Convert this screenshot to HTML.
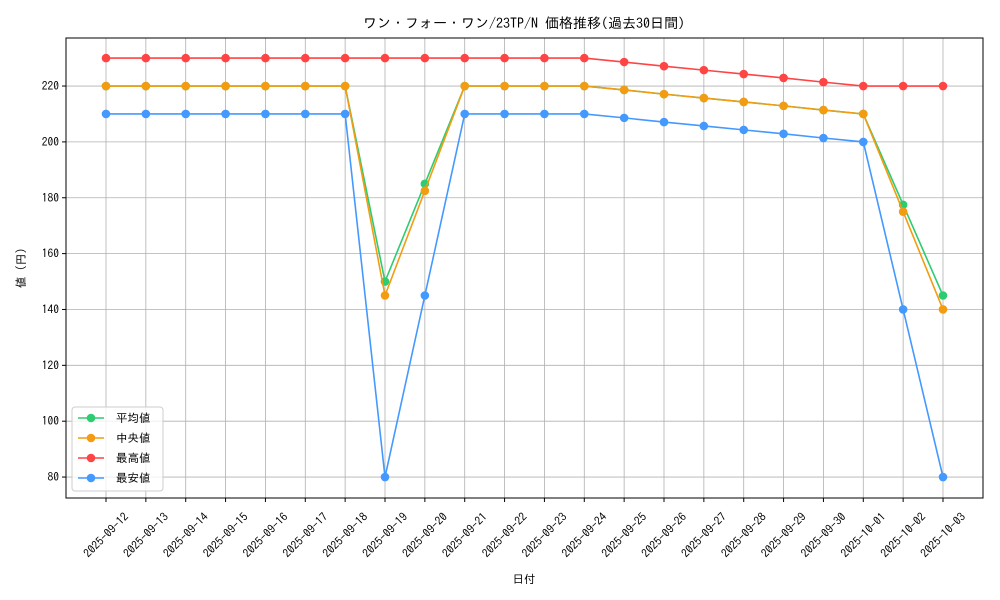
<!DOCTYPE html>
<html><head><meta charset="utf-8"><style>
body{margin:0;background:#fff;}
svg{display:block;font-family:"IPAGothic","Noto Sans CJK JP","Liberation Sans",sans-serif;}
</style></head><body>
<svg id="chart" width="1000" height="600" xmlns="http://www.w3.org/2000/svg"></svg>
<script>
const categories=["2025-09-12","2025-09-13","2025-09-14","2025-09-15","2025-09-16","2025-09-17","2025-09-18","2025-09-19","2025-09-20","2025-09-21","2025-09-22","2025-09-23","2025-09-24","2025-09-25","2025-09-26","2025-09-27","2025-09-28","2025-09-29","2025-09-30","2025-10-01","2025-10-02","2025-10-03"];
const meanValues=[220,220,220,220,220,220,220,150,185,220,220,220,220,218.6,217.1,215.7,214.3,212.9,211.4,210,177.5,145];
const medianValues=[220,220,220,220,220,220,220,145,182.5,220,220,220,220,218.6,217.1,215.7,214.3,212.9,211.4,210,175,140];
const maxValues=[230,230,230,230,230,230,230,230,230,230,230,230,230,228.6,227.1,225.7,224.3,222.9,221.4,220,220,220];
const minValues=[210,210,210,210,210,210,210,80,145,210,210,210,210,208.6,207.1,205.7,204.3,202.9,201.4,200,140,80];
const yTicks=[80,100,120,140,160,180,200,220];
const seriesNames=["平均値","中央値","最高値","最安値"];
const seriesColors=["#2ecc71","#f39c12","#ff4444","#4499ff"];

const NS="http://www.w3.org/2000/svg";
const svg=document.getElementById('chart');
const L=66,R=983,T=38,B=498;
const yMin=72.5,yMax=237.2;
function xs(i){return 106+i*(943-106)/(categories.length-1);}
function ys(v){return B-(v-yMin)/(yMax-yMin)*(B-T);}
function mk(tag,attrs,parent){const e=document.createElementNS(NS,tag);for(const k in attrs)e.setAttribute(k,attrs[k]);(parent||svg).appendChild(e);return e;}

const grid=mk('g',{});


categories.forEach((c,i)=>{mk('line',{x1:xs(i),x2:xs(i),y1:T,y2:B,stroke:'#b0b0b0','stroke-width':0.8},grid);});
yTicks.forEach(v=>{mk('line',{x1:L,x2:R,y1:ys(v),y2:ys(v),stroke:'#b0b0b0','stroke-width':0.8},grid);});

const yAxis=mk('g',{});


yTicks.forEach(v=>{
  mk('line',{x1:L-4,x2:L,y1:ys(v),y2:ys(v),stroke:'#000'},yAxis);
  const t=mk('text',{x:L-7,y:ys(v)+4,'text-anchor':'end','font-size':11.5},yAxis);
  t.textContent=v;
  
  
});
const xAxis=mk('g',{});


categories.forEach((c,i)=>{
  mk('line',{x1:xs(i),x2:xs(i),y1:B,y2:B+4,stroke:'#000'},xAxis);
  const cx=xs(i), cy=B+37;
  const t=mk('text',{x:cx,y:cy+4,'text-anchor':'middle','font-size':11.5,transform:`rotate(-45 ${cx} ${cy})`},xAxis);
  t.textContent=c;
  
  
});

const data=[meanValues,medianValues,maxValues,minValues];
[0,1,2,3].forEach(s=>{
  const g=mk('g',{});
  
  
  const pts=data[s].map((v,i)=>xs(i)+','+ys(v)).join(' ');
  mk('polyline',{points:pts,fill:'none',stroke:seriesColors[s],'stroke-width':1.6},g);
  data[s].forEach((v,i)=>{
    const c=mk('circle',{cx:xs(i),cy:ys(v),r:4.3,fill:seriesColors[s]},g);
    
    
  });
});

mk('rect',{x:L,y:T,width:R-L,height:B-T,fill:'none',stroke:'#000','stroke-width':1});

const lg=mk('g',{});


mk('rect',{x:72,y:407,width:91,height:84,rx:3,fill:'#fff','fill-opacity':0.8,stroke:'#ccc'},lg);
seriesNames.forEach((n,i)=>{
  const y=418+i*20;
  const e=mk('g',{},lg);
  
  
  mk('line',{x1:78,x2:104,y1:y,y2:y,stroke:seriesColors[i],'stroke-width':1.6},e);
  mk('circle',{cx:91,cy:y,r:4.3,fill:seriesColors[i]},e);
  const t=mk('text',{x:116,y:y+4,'font-size':11.5},e);
  t.textContent=n;
});

const title=mk('text',{x:524,y:28,'text-anchor':'middle','font-size':14});
title.textContent='ワン・フォー・ワン/23TP/N 価格推移(過去30日間)';


const xt=mk('text',{x:524,y:583,'text-anchor':'middle','font-size':11.5});
xt.textContent='日付';


const yt=mk('text',{x:25,y:268,'text-anchor':'middle','font-size':11.5,transform:'rotate(-90 25 268)'});
yt.textContent='値 (円)';


</script>
</body></html>
